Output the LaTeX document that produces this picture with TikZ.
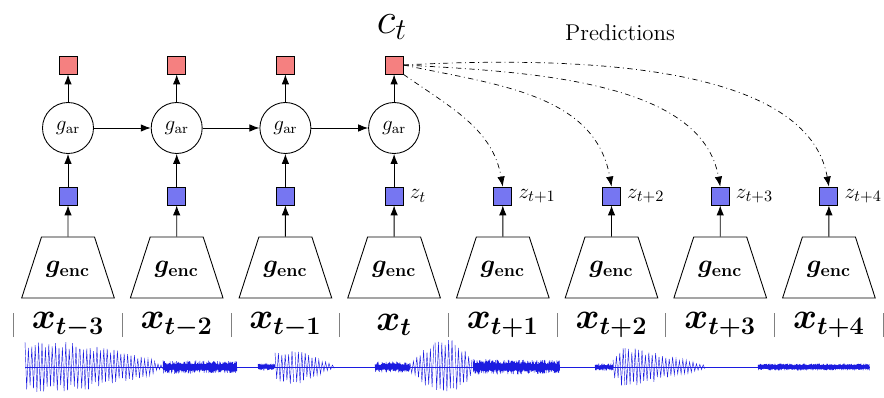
\documentclass[tikz,border=0pt]{standalone}
\usetikzlibrary{arrows.meta,positioning,shapes.geometric}
\definecolor{ctxRed}{HTML}{F58080}
\definecolor{latBlue}{HTML}{7676F2}
\definecolor{waveBlue}{HTML}{1C1CE0}
% one stretch of the audio trace: x0, x1, amp0, amp1, half period, jitter
\newcommand{\wavepart}[6]{%
  \pgfmathtruncatemacro{\wn}{((#2)-(#1))/(#5)}%
  \draw[wave] plot[samples at={0,...,\wn}, variable=\k]
    ({#1+\k*(#5)}, {0.6+((#3)+((#4)-(#3))*\k/\wn)*(1-(#6)*rnd)*(1-2*mod(\k,2))});}

\begin{document}
\begin{tikzpicture}[>={Latex[length=2mm,width=1.5mm]},line width=0.5pt,
    ctx/.style={draw,fill=ctxRed,minimum size=3.6mm,inner sep=0pt},
    lat/.style={draw,fill=latBlue,minimum size=3.6mm,inner sep=0pt},
    ar/.style={draw,circle,minimum size=10.2mm,inner sep=0pt,font=\large},
    enc/.style={draw,trapezium,trapezium angle=72,text width=10.6mm,align=center,
      text height=4mm,text depth=2mm,inner xsep=0pt,inner ysep=3.1mm,font=\Large\boldmath},
    pred/.style={->,dash dot,thin},
    wave/.style={draw=waveBlue,line width=0.25pt}]
  \useasboundingbox (0,0) rectangle (17.68,7.94);
  \pgfmathsetseed{7}
  % ---- encoders and latents ----
  \foreach \i/\lab in {0/t-3,1/t-2,2/t-1,3/t,4/t+1,5/t+2,6/t+3,7/t+4}{
    \pgfmathsetmacro{\cx}{1.36+2.174*\i}
    \node[enc] (e\i) at (\cx,2.59) {$g_{\mathrm{enc}}$};
    \node[lat] (z\i) at (\cx,4.02) {};
    \node[font=\fontsize{19.5}{23}\selectfont\boldmath] (x\i) at (\cx,1.44) {$x_{\lab}$};
    \draw[->] (e\i.north) -- (z\i);
  }
  \foreach \k in {0,...,8} \draw[gray] ({0.273+2.174*\k},1.2) -- ++(0,0.48);
  % ---- autoregressive part ----
  \foreach \i in {0,...,3}{
    \pgfmathsetmacro{\cx}{1.36+2.174*\i}
    \node[ar] (a\i) at (\cx,5.38) {$g_{\mathrm{ar}}$};
    \node[ctx] (c\i) at (\cx,6.64) {};
    \draw[->] (z\i) -- (a\i); \draw[->] (a\i) -- (c\i);
  }
  \foreach \i [evaluate=\i as \j using int(\i+1)] in {0,1,2} \draw[->] (a\i) -- (a\j);
  \node[right=0pt of z3,font=\fontsize{13}{15}\selectfont] (lz3) {$z_t$};
  \foreach \i/\lab in {4/t+1,5/t+2,6/t+3,7/t+4}
    \node[right=0pt of z\i,font=\fontsize{13}{15}\selectfont] (lz\i) {$z_{\lab}$};
  \node[font=\fontsize{24}{28}\selectfont] (ct) at (7.84,7.4) {$c_t$};
  \node[font=\fontsize{13}{15}\selectfont] (predlab) at (12.4,7.28) {Predictions};
  % ---- predictions ----
  \draw[pred] (c3.south east) to[out=-35,in=100] (z4.north);
  \draw[pred] (c3.east) to[out=-12,in=100] (z5.north);
  \draw[pred] (c3.east) to[out=-3,in=100,in looseness=0.8] (z6.north);
  \draw[pred] (c3.east) to[out=3,in=100,out looseness=1.1,in looseness=0.7] (z7.north);
  % ---- waveform ----
  \draw[wave] (0.5,0.6) -- (17.4,0.6);
  \wavepart{0.5}{1.6}{0.52}{0.5}{0.034}{0.3}
  \wavepart{1.6}{3.1}{0.5}{0.16}{0.034}{0.3}
  \wavepart{3.1}{3.26}{0.08}{0.04}{0.03}{0.2}
  \wavepart{3.26}{4.74}{0.14}{0.12}{0.008}{0.6}
  \wavepart{5.16}{5.5}{0.07}{0.06}{0.008}{0.6}
  \wavepart{5.5}{5.9}{0.3}{0.38}{0.034}{0.3}
  \wavepart{5.9}{6.7}{0.38}{0.03}{0.034}{0.3}
  \wavepart{7.5}{8.2}{0.11}{0.11}{0.008}{0.6}
  \wavepart{8.2}{8.7}{0.1}{0.52}{0.034}{0.3}
  \wavepart{8.7}{9.1}{0.54}{0.54}{0.034}{0.3}
  \wavepart{9.1}{9.46}{0.54}{0.2}{0.034}{0.3}
  \wavepart{9.46}{11.2}{0.16}{0.14}{0.008}{0.6}
  \wavepart{11.9}{12.26}{0.07}{0.07}{0.008}{0.6}
  \wavepart{12.26}{12.5}{0.2}{0.45}{0.034}{0.3}
  \wavepart{12.5}{14.1}{0.45}{0.04}{0.034}{0.3}
  \wavepart{15.16}{17.4}{0.07}{0.07}{0.008}{0.5}
\end{tikzpicture}
\end{document}
